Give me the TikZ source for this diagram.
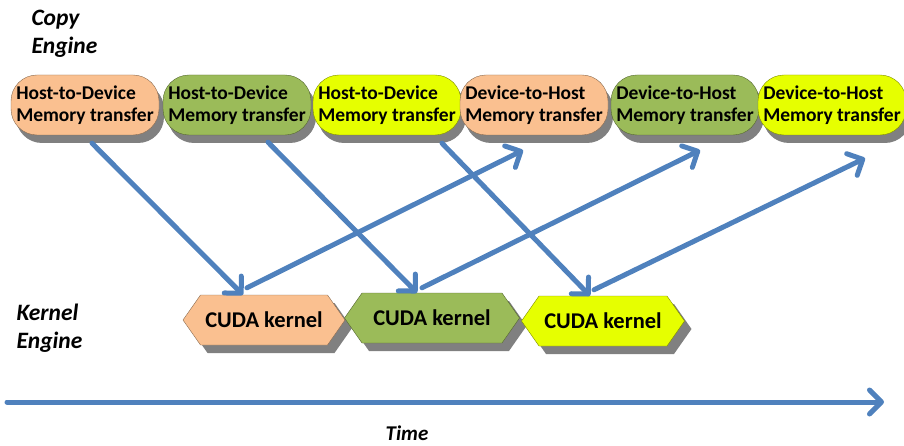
\documentclass[tikz,border=0pt]{standalone}
\usepackage{fontspec}
\setmainfont{Carlito}
\usetikzlibrary{shapes.symbols,shadows,arrows.meta,positioning}
\definecolor{peach}{RGB}{250,192,144}
\definecolor{leafgreen}{RGB}{155,187,89}
\definecolor{limeyellow}{RGB}{230,255,0}
\definecolor{arrowblue}{RGB}{79,129,189}
\definecolor{shadowgray}{RGB}{128,128,128}

\tikzset{
  transfer/.style={draw=#1!55!black, fill=#1, rounded corners=26pt,
    minimum width=148pt, minimum height=60pt, inner sep=1pt, align=left,
    font=\fontsize{19.5}{22}\selectfont\bfseries,
    drop shadow={shadow xshift=5pt, shadow yshift=-8pt, fill=shadowgray, opacity=1}},
  kernel/.style={signal, signal to=west and east, signal pointer angle=110,
    draw=#1!55!black, fill=#1, minimum height=50pt,
    font=\fontsize{22.5}{26}\selectfont\bfseries,
    drop shadow={shadow xshift=7pt, shadow yshift=-8pt, fill=shadowgray, opacity=1}},
  flow/.style={draw=arrowblue, line width=5pt, line cap=round,
    -{Straight Barb[length=12pt, width=24pt, round]}},
  engine/.style={font=\fontsize{23.5}{28}\selectfont\bfseries\itshape, align=left}
}

\begin{document}
\begin{tikzpicture}[x=1pt, y=-1pt]
    \useasboundingbox (0,0) rectangle (904,446);

    % engine labels
    \node[engine, anchor=north west] (copylbl) at (28,7) {Copy\\Engine};
    \node[engine, anchor=north west] (kernlbl) at (13,300) {Kernel\\Engine};

    % copy engine
    \node[transfer=peach] (h2d1) at (85,105) {Host-to-Device\\Memory transfer};
    \node[transfer=leafgreen] (h2d2) at (237,105) {Host-to-Device\\Memory transfer};
    \node[transfer=limeyellow] (h2d3) at (387,105) {Host-to-Device\\Memory transfer};
    \node[transfer=peach] (d2h1) at (534,105) {Device-to-Host\\Memory transfer};
    \node[transfer=leafgreen] (d2h2) at (685,105) {Device-to-Host\\Memory transfer};
    \node[transfer=limeyellow] (d2h3) at (832,105) {Device-to-Host\\Memory transfer};

    % kernel engine
    \node[kernel=peach, minimum width=162pt] (k1) at (264,320) {CUDA kernel};
    \node[kernel=leafgreen, minimum width=175pt] (k2) at (432,318) {CUDA kernel};
    \node[kernel=limeyellow, minimum width=163pt] (k3) at (603,321) {CUDA kernel};

    % transfers in
    \draw[flow] ([xshift=7pt, yshift=-8pt]h2d1.south) -- ([xshift=-21pt]k1.north);
    \draw[flow] ([xshift=31pt, yshift=-7pt]h2d2.south) -- ([xshift=-15pt]k2.north);
    \draw[flow] ([xshift=55pt, yshift=-8pt]h2d3.south) -- ([xshift=-13pt]k3.north);

    % transfers out
    \draw[flow] ([xshift=-17pt, yshift=7pt]k1.north) -- ([xshift=-11pt, yshift=-15pt]d2h1.south);
    \draw[flow] ([xshift=-10pt, yshift=5pt]k2.north) -- ([xshift=15pt, yshift=-15pt]d2h2.south);
    \draw[flow] ([xshift=-9pt, yshift=6pt]k3.north) -- ([xshift=33pt, yshift=-23pt]d2h3.south);

    % time axis
    \coordinate (t0) at (7,402);
    \coordinate (t1) at (884,402);
    \draw[flow] (t0) -- (t1);
    \node[font=\fontsize{21}{24}\selectfont\bfseries\itshape] (timelbl) at (407,433) {Time};
\end{tikzpicture}
\end{document}
